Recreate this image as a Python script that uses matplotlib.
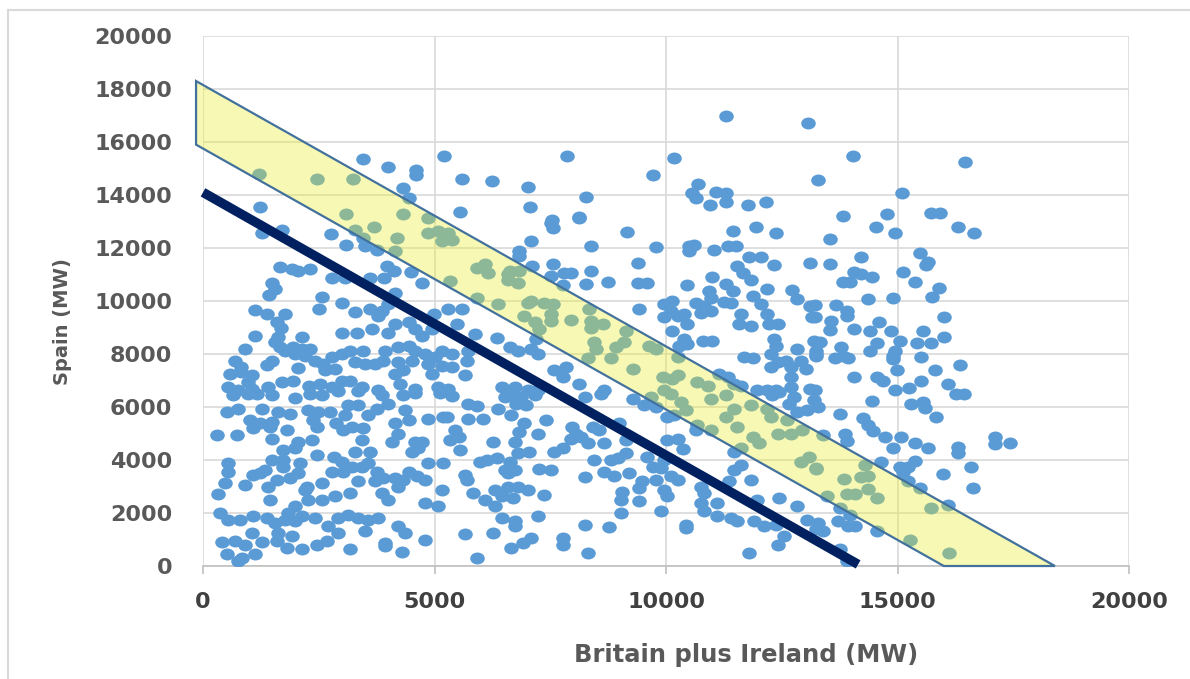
import matplotlib
matplotlib.use("Agg")
import matplotlib.pyplot as plt
from matplotlib.path import Path
from matplotlib.transforms import Affine2D
from matplotlib.patches import Polygon
from matplotlib.lines import Line2D

# ---------------- data (Britain+Ireland MW, Spain MW) ----------------
pts_top = [(3450,15350),(3990,15060),(4610,14950),(4610,14750),(5200,15470),(5590,14600),(6250,14530),
    (4330,14260),(4460,13890),(5540,13360),(1230,13550),(1210,14790),(2460,14600),(3230,14600),(3080,13280),
    (4330,13280),(4850,13130),(11300,16980),(13070,16720),(7870,15470),(10180,15400),(9730,14750),(7010,14300),
    (10700,14410),(8280,13920),(7070,13550),(10570,14080),(10650,13890),(11080,14110),(11300,14080),(10960,13620),
    (11300,13740),(11780,13620),(12160,13740),(7530,13060),(8130,13170),(13290,14570),(14040,15470),(16450,15250),
    (15100,14080),(13820,13210),(14770,13280),(15720,13320),(15920,13320)]

pts_mid_left = [(1270,12560),(1710,12690),(2760,12530),(3080,12130),(3500,12060),(3750,11940),(1660,11290),
    (1920,11220),(2060,11150),(2310,11220),(2780,10880),(3070,10880),(3610,10880),(3900,10880),(3970,11310),
    (4130,11120),(4490,11100),(4720,10690),(1480,10690),(1560,10440),(1430,10210),(4150,10310),(2560,10150),
    (2510,9710),(3000,9940),(3280,9600),(3610,9690),(3770,9440),(3860,9625),(3990,9880),(1120,9660),(1380,9500),
    (1770,9500),(1590,9190),(1680,9000),(1120,8690),(1630,8630),(1560,8440),(1660,8250),(2130,8630),(3000,8780),
    (3320,8780),(3640,8940),(4000,8810),(4150,9130),(4440,9190),(4580,8940),(4720,8690),(4980,9500),(4940,8940),
    (5300,9690),(5590,9690),(5480,9130),(5880,8750),(6340,8590),(910,8190),(1770,8130),(1950,8250),(2130,8190),
    (2310,8190),(1990,8000),(2200,7940),(1480,7750),(690,7750),(830,7500),(580,7250),(830,7310),(1050,7190),
    (980,6940),(1380,7600),(2060,7480),(2420,7750),(2600,7630),(2780,7880),(3000,8000),(3170,8130),(2640,7380),
    (2850,7440),(3280,7690),(3500,7630),(3720,7630),(3890,7750),(3460,8130),(3930,8130),(4220,8250),(4440,8310),
    (4580,8130),(4220,7690),(4510,7750),(4330,7380),(4800,8000),(5010,7880),(5160,8130),(5370,8000),(4870,7630),
    (5160,7560),(5370,7500),(4940,7250),(5730,8130),(5700,7750),(5660,7190),(4150,7250),(4260,6880),(550,6750),
    (760,6630),(1050,6690),(1410,6750),(1700,6940),(1950,7000),(2280,6810),(2530,6880),(2780,6750),(3000,7000),
    (3170,7000),(3430,6750),(3790,6630),(4580,6690),(5080,6750),(5300,6690),(6450,6750),
    (3700,12810),(3280,12690),(3460,12380),(4180,12380),(4870,12560),(5080,12630),(5300,12560),(5370,12310),
    (5160,12250),(4150,11880),(5910,11250),(6090,11380),(6160,11060),(5330,10750),(5910,10130),(6380,9880),
    (6590,11000)]

pts_mid_centre = [(7520,12940),(7550,12750),(8130,13120),(7090,12280),(8380,12060),(9160,12600),(9780,12030),
    (6830,11880),(6830,11690),(7100,11310),(7550,11380),(7800,11060),(7950,11060),(8380,11150),(7520,10940),
    (7770,10600),(8270,10650),(8750,10710),(9390,11440),(9390,10690),(9600,10690),(9420,9690),(10500,12060),
    (10610,12130),(10500,11900),(11040,11940),(11440,12630),(11330,12060),(11510,12060),(11940,12810),
    (12370,12560),(11790,11650),(12050,11650),(12330,11350),(13120,11440),(11540,11310),(11670,11060),
    (11830,10810),(11000,10900),(10450,10600),(11290,10630),(11440,10380),(10930,10380),(10970,10130),
    (11260,9980),(11410,9940),(11870,10190),(12190,10440),(12730,10400),(12840,10060),(12050,9880),(13120,9810),
    (13160,9380),(9960,9900),(10140,10000),(10640,9940),(10820,9810),(10750,9560),(10970,9630),(10100,9630),
    (10250,9440),(10390,9500),(9960,9380),(10460,9130),(10140,8850),(11610,9500),(11580,9130),(11830,9060),
    (12190,9500),(12230,9130),(12410,9130),(10390,8560),(10280,8310),(10460,8380),(10790,8500),(11000,8500),
    (12330,8560),(12370,8310),(12840,8190),(13200,8500),(13230,8000),(11690,7900),(11870,7850),(12260,8000),
    (12410,7690),(12590,7750),(12690,7500),(12910,7750),(13020,7440),(12260,7500),(12690,7130),(11150,7250),
    (11330,7130),(11470,6880),(11610,6810),(12690,6750),(13120,6690),(11970,6630),(12190,6630),(12370,6630),
    (7090,8190),(7230,8000),(6800,8130),(6620,8250),(7590,7380),(7840,7500),(7770,7130),(8130,6880),(6730,6750),
    (7010,6630),(7230,6630),(8670,6630),(7190,8560),
    (6580,10810),(6800,10690),(6830,11130),(6620,11130),(7010,9940),(7090,10000),(7370,9940),(7550,9880),
    (6940,9440),(7160,9190),(7260,8940),(7520,9500),(7520,9250),(7950,9280),(8340,9690),(8380,9250),(8380,9000),
    (8650,9130),(9140,8880),(8920,8250),(9100,8440),(8450,8440),(8490,8190),(8310,7850),(8810,7850),(9280,7440),
    (9640,8310),(9780,8190),(9930,7130),(10140,7060),(10250,7190),(10250,7880),(10680,6940),(10900,6810)]

pts_mid_right = [(14530,12810),(14940,12560),(13540,12340),(16310,12810),(16660,12560),(13540,11400),
    (14220,11650),(14060,11100),(14220,11030),(14440,10900),(13830,10710),(13970,10710),(14370,10060),
    (14910,10130),(15120,11100),(15480,11810),(15660,11480),(15620,11350),(15370,10710),(15890,10480),
    (15740,10160),(13210,9850),(13210,9380),(13680,9850),(13900,9630),(13900,9440),(13570,9230),(13540,8900),
    (14060,8940),(14400,8880),(14590,9190),(14870,8850),(15050,8500),(14550,8400),(14400,8130),(13790,8250),
    (13830,7940),(13650,7850),(13940,7850),(13320,8440),(13250,8130),(13250,7940),(14940,8130),(14910,7940),
    (14910,7810),(15430,8400),(15720,8400),(15550,8880),(16010,9380),(16010,8650),(15500,7900),(14980,7410),
    (15800,7410),(16360,7600),(14060,7150),(14550,7150),(14690,7000),(15500,6980),(15250,6730),(14940,6630),
    (16080,6880),(16260,6500),(16440,6500),(13210,6630)]

pts_low_left = [(655,6440),(980,6500),(1160,6500),(1480,6440),(1990,6350),(2310,6500),(2560,6440),(2920,6590),
    (3350,6590),(3860,6470),(4330,6440),(4580,6530),(5120,6530),(5370,6400),
    (510,5810),(760,5940),(1270,5940),(1630,5810),(1880,5720),(2270,5880),(2490,5810),(2740,5810),(3140,6060),
    (3350,6060),(3750,5940),(4000,6130),(4360,5880),(1020,5500),(1230,5380),(1480,5440),(2380,5500),(2880,5380),
    (3070,5690),(3570,5690),(4150,5380),(4440,5500),(4870,5560),(5190,5630),(5730,6130),(5910,6030),(5730,5560),
    (6050,5560),(6380,5940),(6520,6380),
    (300,4940),(730,4940),(1090,5190),(1450,5250),(1480,4810),(1810,5130),(2060,4690),(2350,4750),(2460,5250),
    (3030,5130),(3210,5250),(3460,5190),(4080,4690),(4220,5000),(4580,4690),(4720,4690),(5260,5630),(5440,5130),
    (5520,4880),(5330,4750),(5550,4380),(6270,4690),
    (1730,4380),(1990,4440),(1730,4000),(1730,3750),(1480,4000),(1340,3630),(1090,3440),(550,3880),(550,3560),
    (470,3130),(910,3060),(1230,3500),(1410,3000),(1590,3250),(1880,3310),(2060,3500),(2100,3880),(2460,4190),
    (2820,4130),(3000,3940),(3280,4310),(3430,4750),(3610,4310),(2780,3560),(3030,3560),(3210,3750),(3430,3750),
    (3570,3880),(3750,3560),(3890,3310),(3720,3190),(3350,3220),(4150,3310),(4330,3250),(4220,3000),(4440,3560),
    (4620,3380),(4800,3250),(4510,4310),(4650,4440),(4870,3880),(5190,3880),(5660,3440),(5700,3250),(5980,3940),
    (6130,4000),(6340,4060),(6520,3630),(2560,3130),(2240,3000),
    (330,2730),(1450,2500),(2200,2880),(2270,2500),(1990,2250),(1840,2000),(2560,2500),(2850,2630),(3170,2750),
    (3860,2750),(4000,2500),(4800,2380),(5080,2250),(5160,2880),(5840,2750),(6090,2500),(6310,2880),(6310,2250),
    (6450,2630),
    (370,2000),(550,1750),(800,1750),(1090,1880),(1380,1810),(1560,1630),(1770,1750),(1990,1690),(2130,1880),
    (2420,1810),(2710,1500),(2920,1810),(3140,1940),(3350,1810),(3570,1750),(3790,1810),(4220,1500),(4360,1250),
    (1050,1250),(1630,1250),(1920,1130),(2920,1250),(3500,1310),(4800,1000),(5660,1190),(6270,1250),(6450,1810),
    (400,900),(690,940),(910,810),(1270,900),(1590,940),(1810,690),(2130,650),(2460,810),(2670,940),(3170,650),
    (3930,880),(4290,540),(510,440),(840,310),(1120,440),(760,190),(5910,310),(3930,750)]

pts_low_centre = [(6650,6440),(6870,6380),(7160,6440),(6760,6130),(6980,6060),(8240,6380),(8600,6500),
    (9280,6310),(9530,6060),(9780,6000),(9960,6630),
    (6650,5690),(6940,5380),(6830,5060),(7230,5000),(7410,5500),(6730,4690),(7050,4310),(6800,4250),(6620,3940),
    (6730,3630),(6580,3500),
    (7980,5250),(8060,5000),(7950,4810),(8160,4880),(8420,5250),(8560,5130),(8310,4630),(8670,4630),(8990,5380),
    (9140,4750),(7590,4310),(7770,4440),
    (8450,4000),(8810,4000),(8960,4060),(9140,4250),(8670,3560),(8880,3380),(9210,3500),(8240,3350),(7260,3650),
    (7520,3630),(9600,4130),(9710,3750),(9890,3690),(9960,4000),(10030,4750),(10250,4810),(10360,4400),
    (10110,3380),(10250,3250),(9780,3250),(9490,3190),(9420,2940),(9060,2810),(9030,2500),(9420,2440),
    (9960,2880),(10030,2630),(9890,2060),(9030,2000),
    (6580,3000),(6800,3000),(7010,2880),(6690,2560),(7370,2690),(7230,1900),(6730,1690),(6730,1500),(7090,1060),
    (6910,880),(6650,690),(7770,1060),(7770,810),(8240,1560),(8310,500),(8770,1480),(10430,1560),(10430,1440),
    (10750,3000),(10820,2750),(10750,2380),(10820,2060),(11110,2380),(11110,1900),(11400,1810),(11540,1690),
    (11830,3250),(11470,3630),(11610,3810),(11360,3190),(11970,2500),(11900,1690),(12120,1500),(12370,1560),
    (12440,2560),(12840,2250),(12550,1130),(12410,810),(11790,500),(13050,1750),(13230,1380),(12300,6440),
    (12440,6560),(12660,6130),
    (10650,5130),(10030,5630),(10180,5690),(11470,4310),(11610,4440),(12760,6380),(12840,5810),(13050,5880),
    (13200,6250),
    (9670,6380),(10110,6500),(10320,6190),(10430,5880),(10970,6310),(11290,6440),(11470,5940),(11290,5630),
    (11540,5250),(11830,6060),(12190,5940),(12260,5630),(12620,5500),(10970,5130),(11870,4880),(12010,4630),
    (12410,5000),(12690,5000),(12940,5130),(13090,4130),(12910,3940),(13230,3690),(10680,5310)]

pts_low_right = [(14440,6230),(13290,6000),(13750,5730),(15300,6130),(15550,6190),(15590,5980),(15840,5630),
    (14260,5600),(14370,5310),(14470,5100),(14730,4850),(15070,4850),(15370,4650),(15660,4440),(14910,4440),
    (13860,4980),(13900,4730),(13390,4940),(16310,4500),(16310,4250),(17100,4850),(17100,4600),(17430,4650),
    (14650,3940),(15050,3750),(15230,3750),(15370,3980),(15120,3560),(15990,3480),(16580,3730),(16630,2940),
    (15230,3190),(15480,2940),(16090,2310),(14550,1310),(13720,1690),(13940,1500),(14080,1500),(13290,1630),
    (13390,1310),(13760,630),(13900,200),
    (13250,3650),(13850,3280),(14220,3350),(14370,3400),(14370,2900),(14550,2560),(13900,2730),(14080,2730),
    (13470,2630),(13760,2190),(13970,1940),(14290,3810),(15730,2190),(15260,980),(16110,480)]

# Shaded feasibility band (corner points) and the dark limit line
band_x = [-150, 18400, 16000, -150]
band_y = [18300, 0, 0, 15900]
limit_x = [0, 14150]
limit_y = [14100, 60]

x_ticks = [0, 5000, 10000, 15000, 20000]
y_ticks = list(range(0, 20001, 2000))
x_label = "Britain plus Ireland (MW)"
y_label = "Spain (MW)"

# ---------------- drawing ----------------
all_pts = pts_top + pts_mid_left + pts_mid_centre + pts_mid_right + pts_low_left + pts_low_centre + pts_low_right
xs = [p[0] for p in all_pts]
ys = [p[1] for p in all_pts]

plt.rcParams['font.family'] = ['DejaVu Sans']
plt.rcParams['font.weight'] = 'bold'
fig = plt.figure(figsize=(11.9, 6.79), dpi=100)
ax = fig.add_axes([203/1190, 1-566/679, (1129-203)/1190, (566-36)/679])

ell = Path.unit_circle().transformed(Affine2D().scale(1.0, 0.82))
ax.scatter(xs, ys, s=110, marker=ell, c='#5B9BD5', linewidths=0, zorder=3)

band = Polygon(list(zip(band_x, band_y)), closed=True, facecolor=(0.91, 0.93, 0.18, 0.36),
               edgecolor='#41719C', linewidth=1.6, zorder=4, clip_on=False)
ax.add_patch(band)
ax.plot(limit_x, limit_y, color='#002060', linewidth=6.8, solid_capstyle='butt', zorder=5, clip_on=False)

ax.set_xlim(0, 20000)
ax.set_ylim(0, 20000)
ax.set_xticks(x_ticks)
ax.set_yticks(y_ticks)
ax.set_xticklabels([str(v) for v in x_ticks], fontweight='bold')
ax.set_yticklabels([str(v) for v in y_ticks], fontweight='bold')
ax.grid(True, color='#D9D9D9', linewidth=1.2, zorder=0)
ax.set_axisbelow(True)
for side in ['top', 'right', 'left']:
    ax.spines[side].set_visible(False)
ax.spines['bottom'].set_color('#BFBFBF')
ax.spines['bottom'].set_linewidth(1.2)
ax.tick_params(axis='x', length=6, width=1.2, color='#BFBFBF', pad=13, labelsize=16, labelcolor='#404040')
ax.tick_params(axis='y', length=0, pad=22, labelsize=16, labelcolor='#595959')

fig.text(746/1190, 1-655/679, x_label, ha='center', va='center', fontsize=17.5,
         fontweight='bold', color='#595959')
fig.text(63/1190, 1-322/679, y_label, ha='center', va='center', rotation=90, fontsize=14,
         fontweight='bold', color='#595959')

# outer chart frame (left and top edges visible)
fig.add_artist(Line2D([8/1190, 8/1190], [0, 1-10/679], color='#D9D9D9', linewidth=1.5))
fig.add_artist(Line2D([8/1190, 1], [1-10/679, 1-10/679], color='#D9D9D9', linewidth=1.5))

fig.savefig('out.png', dpi=100)
